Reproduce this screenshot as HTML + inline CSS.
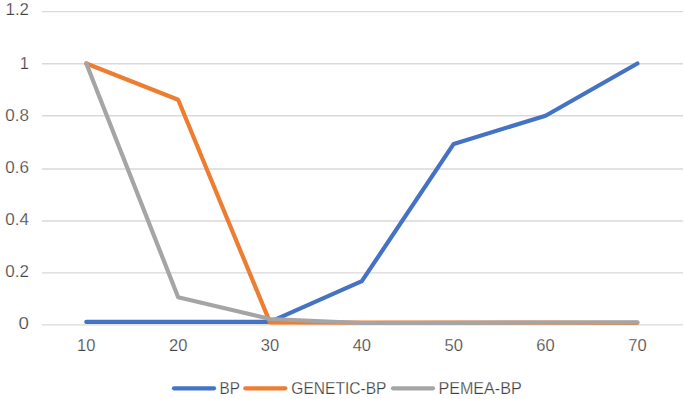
<!DOCTYPE html>
<html><head><meta charset="utf-8"><style>
html,body{margin:0;padding:0;background:#fff;}
body{width:685px;height:399px;overflow:hidden;}
svg{display:block;}
text{font-family:"Liberation Sans",sans-serif;font-size:16.5px;fill:#404040;stroke:#fff;stroke-width:0.25px;}
polyline{fill:none;stroke-width:4.2;stroke-linejoin:round;stroke-linecap:round;}
.l{stroke-width:4.2;stroke-linecap:round;}
</style></head><body>
<svg width="685" height="399" viewBox="0 0 685 399">
<line x1="42" x2="683" y1="11.6" y2="11.6" stroke="#d9d9d9" stroke-width="1.4"/>
<line x1="42" x2="683" y1="63.7" y2="63.7" stroke="#d9d9d9" stroke-width="1.4"/>
<line x1="42" x2="683" y1="115.7" y2="115.7" stroke="#d9d9d9" stroke-width="1.4"/>
<line x1="42" x2="683" y1="169.0" y2="169.0" stroke="#d9d9d9" stroke-width="1.4"/>
<line x1="42" x2="683" y1="221.0" y2="221.0" stroke="#d9d9d9" stroke-width="1.4"/>
<line x1="42" x2="683" y1="272.9" y2="272.9" stroke="#d9d9d9" stroke-width="1.4"/>
<line x1="42" x2="683" y1="324.9" y2="324.9" stroke="#d9d9d9" stroke-width="1.4"/>
<text x="29" y="15.4" text-anchor="end" textLength="23.5" lengthAdjust="spacingAndGlyphs">1.2</text>
<text x="29" y="68.5" text-anchor="end">1</text>
<text x="29" y="120.5" text-anchor="end" textLength="23.68" lengthAdjust="spacingAndGlyphs">0.8</text>
<text x="29" y="172.5" text-anchor="end" textLength="23.68" lengthAdjust="spacingAndGlyphs">0.6</text>
<text x="29" y="224.5" text-anchor="end" textLength="23.68" lengthAdjust="spacingAndGlyphs">0.4</text>
<text x="29" y="276.5" text-anchor="end" textLength="23.68" lengthAdjust="spacingAndGlyphs">0.2</text>
<text x="29" y="328.5" text-anchor="end" textLength="10.4" lengthAdjust="spacingAndGlyphs">0</text>
<text x="86.30" y="350.8" text-anchor="middle">10</text>
<text x="178.15" y="350.8" text-anchor="middle">20</text>
<text x="270.00" y="350.8" text-anchor="middle">30</text>
<text x="361.85" y="350.8" text-anchor="middle">40</text>
<text x="453.70" y="350.8" text-anchor="middle">50</text>
<text x="545.55" y="350.8" text-anchor="middle">60</text>
<text x="637.40" y="350.8" text-anchor="middle">70</text>
<polyline points="86.30,321.90 178.15,321.80 270.00,321.80 361.85,281.20 453.70,143.90 545.55,115.80 637.40,63.50" stroke="#4472c4"/>
<polyline points="86.30,63.50 178.15,99.70 270.00,322.40 361.85,322.60 453.70,322.60 545.55,322.60 637.40,322.80" stroke="#ed7d31"/>
<polyline points="86.30,63.50 178.15,297.20 270.00,319.00 361.85,323.00 453.70,322.90 545.55,322.50 637.40,322.40" stroke="#a5a5a5"/>
<line x1="174" x2="214" y1="388.3" y2="388.3" stroke="#4472c4" class="l"/>
<line x1="245.3" x2="285.3" y1="388.3" y2="388.3" stroke="#ed7d31" class="l"/>
<line x1="393" x2="433" y1="388.3" y2="388.3" stroke="#a5a5a5" class="l"/>
<text x="219.5" y="394" textLength="20.35" lengthAdjust="spacingAndGlyphs">BP</text>
<text x="291.35" y="394" textLength="95.05" lengthAdjust="spacingAndGlyphs">GENETIC-BP</text>
<text x="438.4" y="394" textLength="83.3" lengthAdjust="spacingAndGlyphs">PEMEA-BP</text>
</svg>
</body></html>
